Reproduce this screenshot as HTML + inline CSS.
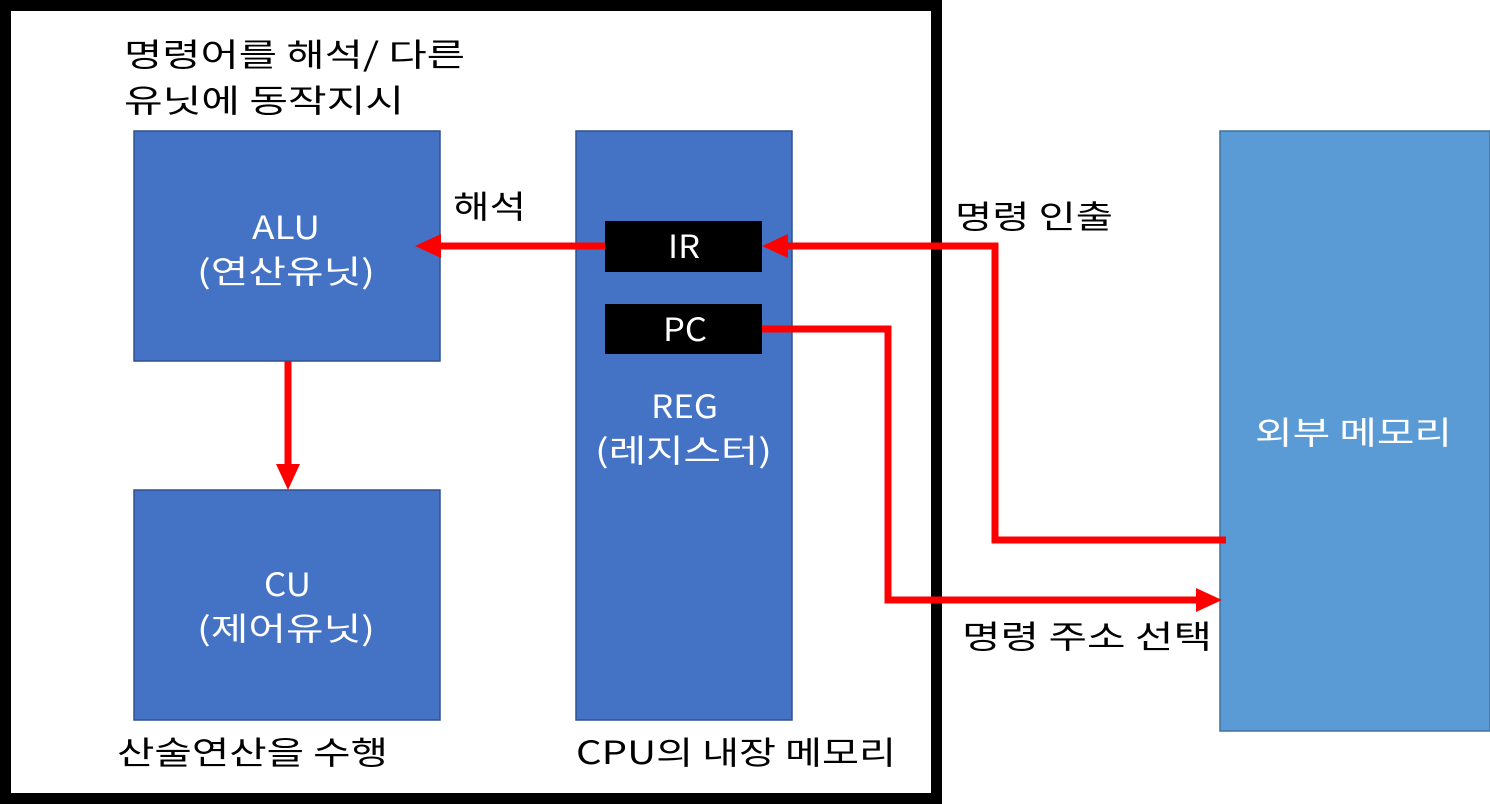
<!DOCTYPE html>
<html><head><meta charset="utf-8"><style>
html,body{margin:0;padding:0;background:#fff;}
svg{display:block;}
text{font-family:"Noto Sans CJK KR","Liberation Sans",sans-serif;}
</style></head><body>
<svg width="1490" height="804" viewBox="0 0 1490 804" xmlns="http://www.w3.org/2000/svg">
<rect x="5.5" y="5.5" width="931" height="793" fill="none" stroke="#000" stroke-width="11"/>
<rect x="134" y="131" width="306" height="230" fill="#4472C4" stroke="#2F528F" stroke-width="1.5"/>
<rect x="134" y="490" width="306" height="230" fill="#4472C4" stroke="#2F528F" stroke-width="1.5"/>
<rect x="576" y="131" width="216" height="589" fill="#4472C4" stroke="#2F528F" stroke-width="1.5"/>
<rect x="1220" y="131" width="270" height="600" fill="#5B9BD5" stroke="#41719C" stroke-width="1.5"/>
<rect x="605" y="221" width="157" height="51" fill="#000"/>
<rect x="605" y="304" width="157" height="50" fill="#000"/>
<g fill="none" stroke="#f00" stroke-width="7">
<polyline points="605,246 438,246"/>
<polyline points="288,361 288,466"/>
<polyline points="1226,540 995,540 995,246 786,246"/>
<polyline points="762,329 888,329 888,600 1196,600"/>
</g>
<g fill="#f00">
<polygon points="415,246 441,234 441,258"/>
<polygon points="288,490 276,464 300,464"/>
<polygon points="762,246 788,234 788,258"/>
<polygon points="1222,600 1196,588 1196,612"/>
</g>
<g font-size="32" fill="#fff" lengthAdjust="spacingAndGlyphs">
<text x="252" y="239" textLength="68" lengthAdjust="spacingAndGlyphs">ALU</text>
<text x="197" y="283" textLength="178" lengthAdjust="spacingAndGlyphs">(연산유닛)</text>
<text x="264" y="596" textLength="47" lengthAdjust="spacingAndGlyphs">CU</text>
<text x="197" y="640" textLength="178" lengthAdjust="spacingAndGlyphs">(제어유닛)</text>
<text x="651" y="418" textLength="67" lengthAdjust="spacingAndGlyphs">REG</text>
<text x="595" y="462" textLength="177" lengthAdjust="spacingAndGlyphs">(레지스터)</text>
<text x="668" y="258" textLength="32" lengthAdjust="spacingAndGlyphs">IR</text>
<text x="663" y="341" textLength="44" lengthAdjust="spacingAndGlyphs">PC</text>
<text x="1255" y="444" textLength="197" lengthAdjust="spacingAndGlyphs">외부 메모리</text>
</g>
<g font-size="32" fill="#000">
<text x="124" y="66" textLength="341" lengthAdjust="spacingAndGlyphs">명령어를 해석/ 다른</text>
<text x="124" y="112" textLength="280" lengthAdjust="spacingAndGlyphs">유닛에 동작지시</text>
<text x="453" y="218" textLength="73" lengthAdjust="spacingAndGlyphs">해석</text>
<text x="955" y="228" textLength="158" lengthAdjust="spacingAndGlyphs">명령 인출</text>
<text x="962" y="648" textLength="250" lengthAdjust="spacingAndGlyphs">명령 주소 선택</text>
<text x="117" y="764" textLength="271" lengthAdjust="spacingAndGlyphs">산술연산을 수행</text>
<text x="576" y="764" textLength="320" lengthAdjust="spacingAndGlyphs">CPU의 내장 메모리</text>
</g>
</svg>
</body></html>
